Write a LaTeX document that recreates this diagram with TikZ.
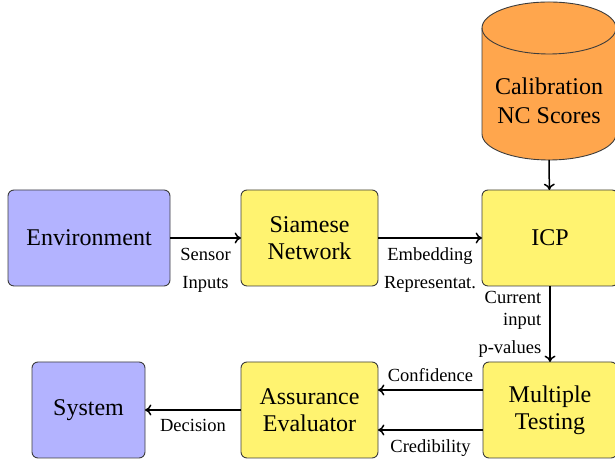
\documentclass[tikz,border=0pt]{standalone}
\usepackage{fontspec}
\setmainfont{Liberation Serif}
\usetikzlibrary{arrows.meta}

\definecolor{boxblue}{RGB}{179,179,255}
\definecolor{boxyellow}{RGB}{255,243,112}
\definecolor{cylorange}{RGB}{255,166,77}
\definecolor{edgegray}{RGB}{60,60,60}

\tikzset{
  block/.style={draw=edgegray, line width=0.45pt, rounded corners=3pt,
    minimum height=48pt, align=center, outer sep=0pt, inner sep=2pt,
    font=\fontsize{12}{13.5}\selectfont},
  envbox/.style={block, fill=boxblue},
  procbox/.style={block, fill=boxyellow},
  flow/.style={-{To[length=3.2pt,width=5.5pt]}, line width=0.75pt},
  lbl/.style={font=\fontsize{9.25}{11}\selectfont, align=center}
}

\begin{document}
\begin{tikzpicture}[x=0.5pt, y=0.5pt]
  \useasboundingbox (0,0) rectangle (615,464);

  % calibration store (cylinder)
  \filldraw[fill=cylorange, draw=edgegray, line width=0.45pt]
    (482,436) -- (482,330)
    arc[start angle=180, end angle=360, x radius=33.5pt, y radius=13pt]
    -- (616,436)
    arc[start angle=0, end angle=180, x radius=33.5pt, y radius=13pt] -- cycle;
  \draw[edgegray, line width=0.45pt] (482,436)
    arc[start angle=180, end angle=360, x radius=33.5pt, y radius=13pt];
  \node[align=center, font=\fontsize{12}{14.5}\selectfont] (calib) at (549,363)
    {Calibration\\NC Scores};
  \coordinate (calibbot) at (549,304);

  % processing blocks
  \node[envbox, minimum width=81pt] (env) at (89,226) {Environment};
  \node[procbox, minimum width=68.5pt] (siam) at (309.5,226) {Siamese\\Network};
  \node[procbox, minimum width=68pt] (icp) at (550,226) {ICP};
  \node[procbox, minimum width=67pt] (mt) at (550,54) {Multiple\\Testing};
  \node[procbox, minimum width=68.5pt] (assur) at (309.5,54) {Assurance\\Evaluator};
  \node[envbox, minimum width=56.5pt] (sys) at (88.5,54) {System};

  % connectors
  \draw[flow] (env) -- node[lbl, below=1.3pt] {Sensor\\[3pt]Inputs} (siam);
  \draw[flow] (siam) -- node[lbl, below=1.3pt] {Embedding\\[3pt]Representat.} (icp);
  \draw[flow] (calibbot) -- (icp);
  \draw[flow] (icp) -- node[lbl, align=right, left=0.7pt] {Current\\input\\[3pt]p-values} (mt);
  \draw[flow] (mt.west |- 0,74) -- node[lbl, above=0.3pt] {Confidence} (assur.east |- 0,74);
  \draw[flow] (mt.west |- 0,34) -- node[lbl, below=1.3pt] {Credibility} (assur.east |- 0,34);
  \draw[flow] (assur) -- node[lbl, below=0.8pt] {Decision} (sys);
\end{tikzpicture}
\end{document}
